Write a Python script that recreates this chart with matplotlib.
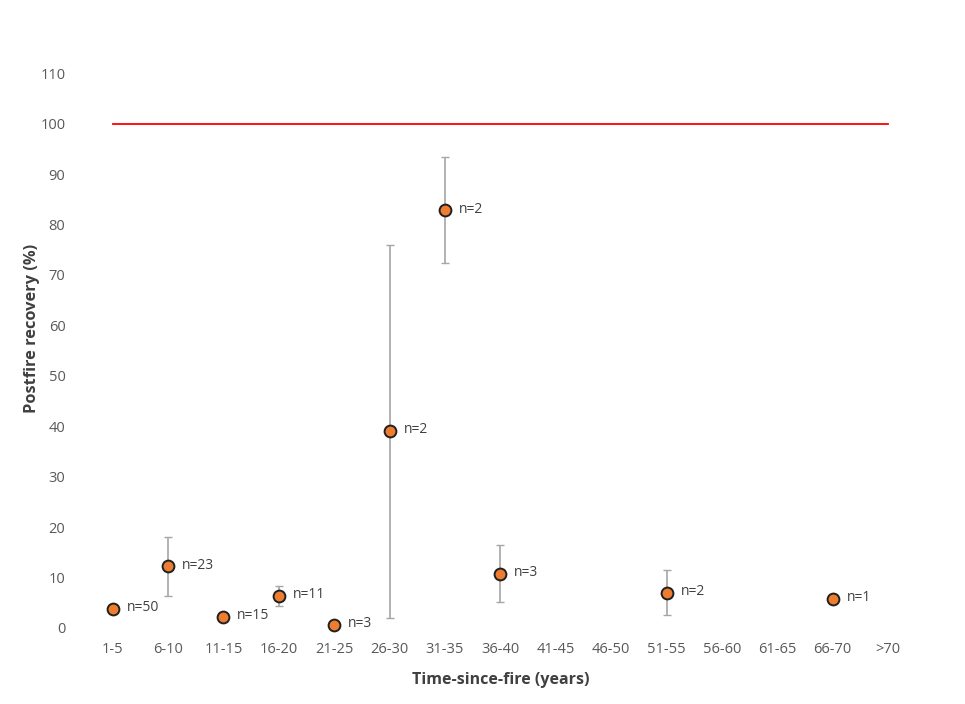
import numpy as np
import matplotlib.pyplot as plt

plt.rcParams["font.family"] = ["Open Sans", "DejaVu Sans"]

categories = ["1-5", "6-10", "11-15", "16-20", "21-25", "26-30", "31-35", "36-40",
              "41-45", "46-50", "51-55", "56-60", "61-65", "66-70", ">70"]
recovery = [3.8, 12.2, 2.2, 6.3, 0.6, 39.0, 82.8, 10.8, np.nan, np.nan, 7.0, np.nan, np.nan, 5.8, np.nan]
err = [0.0, 5.9, 0.0, 2.0, 0.0, 37.0, 10.5, 5.7, 0.0, 0.0, 4.4, 0.0, 0.0, 0.0, 0.0]
n_labels = ["n=50", "n=23", "n=15", "n=11", "n=3", "n=2", "n=2", "n=3",
            "", "", "n=2", "", "", "n=1", ""]
reference = [100] * len(categories)

x = np.arange(len(categories))

fig = plt.figure(figsize=(9.65, 7.04), dpi=100)
ax = fig.add_axes([0.088, 0.108, 0.861, 0.788])

ax.plot(x, reference, color="#ff0000", lw=1.3, zorder=2)

y = np.array(recovery)
e = np.array(err)
has_err = (e > 0) & ~np.isnan(y)
ax.errorbar(x[has_err], y[has_err], yerr=e[has_err], fmt="none",
            ecolor="#a6a6a6", elinewidth=1.2, capsize=3, capthick=1, zorder=3)
ax.plot(x, y, "o", ms=8.5, mfc="#ed7d31", mec="#1f1f1f", mew=1.4, zorder=4,
        clip_on=False)

for xi, yi, lab in zip(x, recovery, n_labels):
    if lab:
        ax.annotate(lab, (xi, yi), xytext=(10, 1), textcoords="offset points",
                    va="center", ha="left", fontsize=10, color="#404040")

ax.set_xlim(-0.5, len(categories) - 0.5)
ax.set_ylim(0, 110)
ax.set_yticks(np.arange(0, 111, 10))
ax.set_xticks(x)
ax.set_xticklabels(categories)
ax.tick_params(length=0, labelsize=10.5, labelcolor="#595959")
ax.tick_params(axis="x", pad=10)
ax.tick_params(axis="y", pad=14)
for s in ax.spines.values():
    s.set_visible(False)

ax.set_ylabel("Postfire recovery (%)", fontsize=11.8, fontweight="bold",
              color="#404040")
ax.yaxis.set_label_coords(-0.054, 0.54)
ax.set_xlabel("Time-since-fire (years)", fontsize=11.5, fontweight="bold",
              color="#404040", labelpad=11)

fig.savefig("out.png", dpi=100)
